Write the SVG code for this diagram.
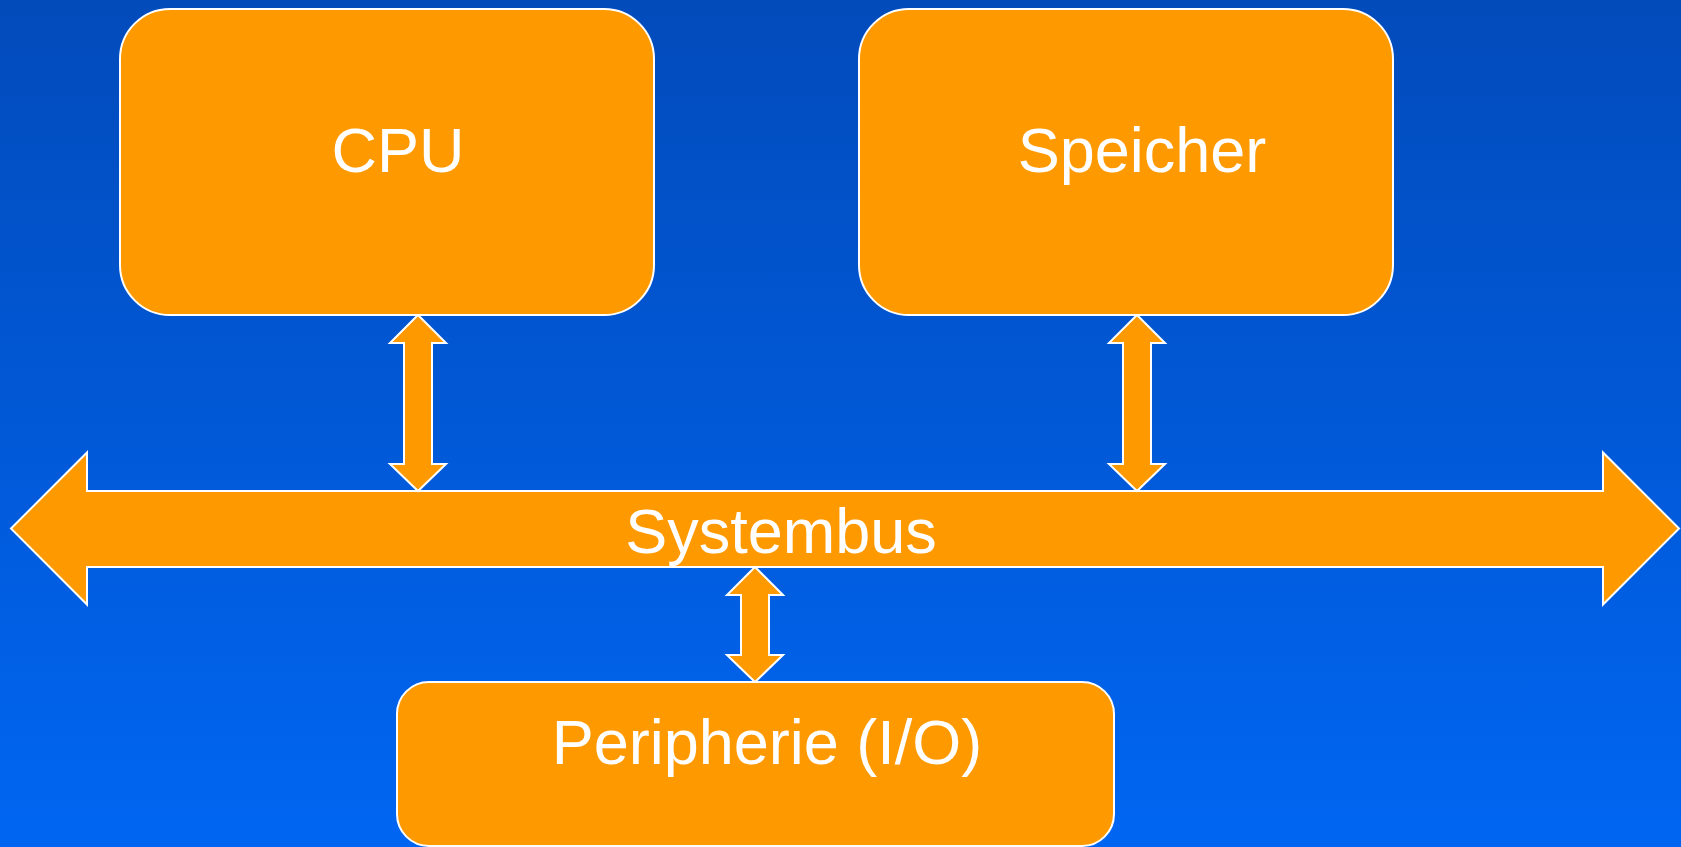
<svg xmlns="http://www.w3.org/2000/svg" width="1681" height="847" viewBox="0 0 1681 847">
<defs>
<linearGradient id="bg" x1="0" y1="0" x2="0" y2="1">
<stop offset="0" stop-color="#024bbb"/>
<stop offset="1" stop-color="#0066f2"/>
</linearGradient>
</defs>
<style>
.box{fill:#ff9900;stroke:#ffffff;stroke-width:2}
.arr{fill:#ff9900;stroke:#ffffff;stroke-width:2;stroke-linejoin:miter}
.lbl{font-family:"Liberation Sans",Arial,sans-serif;font-size:63px;fill:#ffffff;text-anchor:middle}
</style>
<rect x="0" y="0" width="1681" height="847" fill="url(#bg)"/>
<g id="connectors">
<path class="arr" d="M11,528.5 L87,452.5 L87,491 L1603,491 L1603,452.5 L1679,528.5 L1603,604.5 L1603,567 L87,567 L87,604.5 Z"/>
<path class="arr" d="M418,315 L446,343 L432,343 L432,464 L446,464 L418,491 L390,464 L404,464 L404,343 L390,343 Z"/>
<path class="arr" d="M1137,315 L1165,343 L1151,343 L1151,464 L1165,464 L1137,491 L1109,464 L1123,464 L1123,343 L1109,343 Z"/>
<path class="arr" d="M755,567 L783,595 L769,595 L769,655 L783,655 L755,682 L727,655 L741,655 L741,595 L727,595 Z"/>
</g>
<g id="bus-label">
<text class="lbl" x="781" y="553">Systembus</text>
</g>
<g id="cpu">
<rect class="box" x="120" y="9" width="534" height="306" rx="50" ry="50"/>
<text class="lbl" x="398" y="172">CPU</text>
</g>
<g id="speicher">
<rect class="box" x="859" y="9" width="534" height="306" rx="50" ry="50"/>
<text class="lbl" x="1142" y="172">Speicher</text>
</g>
<g id="peripherie">
<rect class="box" x="397" y="682" width="717" height="164" rx="32" ry="32"/>
<text class="lbl" x="767" y="764">Peripherie (I/O)</text>
</g>
</svg>
